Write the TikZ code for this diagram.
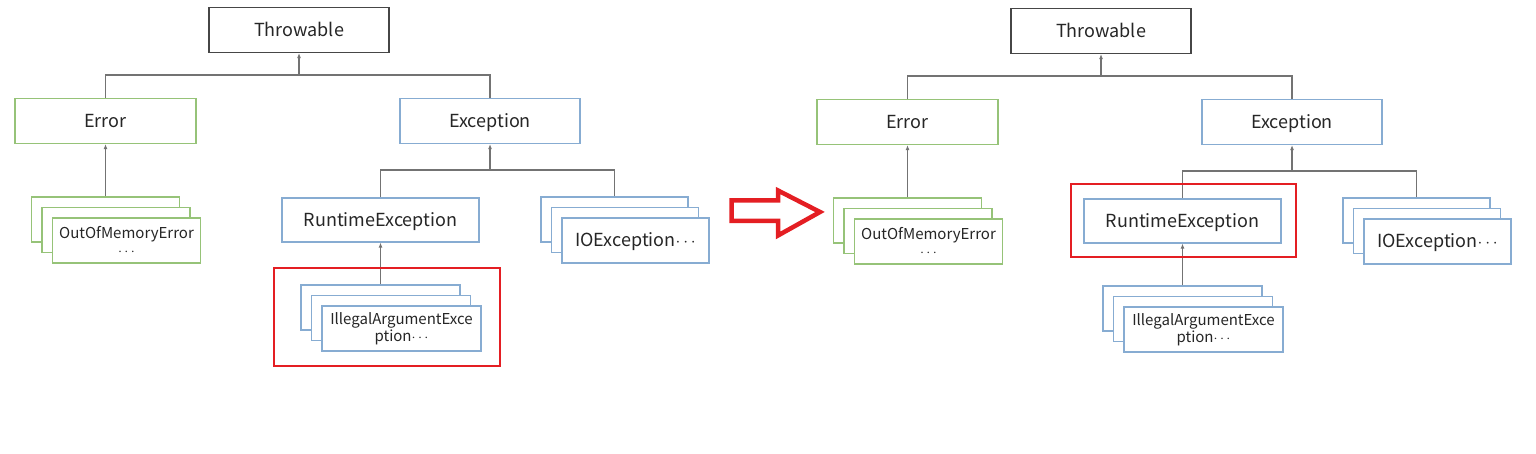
\documentclass[tikz,border=0pt]{standalone}
\usepackage{fontspec}
\setmainfont{Noto Sans CJK SC}
\usetikzlibrary{arrows.meta,shadows,positioning}
\definecolor{tgray}{RGB}{70,70,70}
\definecolor{tgreen}{RGB}{150,195,120}
\definecolor{tblue}{RGB}{135,172,210}
\definecolor{tlink}{RGB}{115,115,115}
\definecolor{tred}{RGB}{228,30,35}
\begin{document}
\begin{tikzpicture}[x=1pt, y=-1pt]
  \tikzset{BoxStyle/.style = {shape        = rectangle,
                              draw         = #1,
                              fill         = white,
                              line width   = 1.2pt,
                              text         = black!85,
                              inner sep    = 2pt,
                              minimum height = 45pt,
                              font         = \fontsize{18}{20}\selectfont},
           OneLine/.style = {text height=13pt, text depth=0pt},
           StackStyle/.style = {BoxStyle=#1,
                              double copy shadow={shadow xshift=-10.5pt, shadow yshift=10.5pt,
                                                  draw=#1, fill=white, line width=1.2pt}},
           SmallText/.style = {align=center, font=\fontsize{15}{17}\selectfont},
           LinkStyle/.style = {draw=tlink, line width=1.1pt},
           ArrowTip/.style = {-{Latex[length=5pt, width=4pt]}},
           MarkStyle/.style = {draw=tred, line width=2.6pt, rectangle, fill=none}}
  \useasboundingbox (0,0) rectangle (1536,454);
  %%% TWO COPIES OF THE TREE %%%
  \foreach \dx/\dy/\t in {0/0/a, 802/1/b}{
    \begin{scope}[shift={(\dx,\dy)}]
      \node[BoxStyle=tgray, OneLine, minimum width=180pt](th\t) at (299,30){Throwable};
      \node[BoxStyle=tgreen, OneLine, minimum width=181pt](err\t) at (105.5,121){Error};
      \node[BoxStyle=tblue, OneLine, minimum width=180pt](exc\t) at (490,121){Exception};
      \node[StackStyle=tgreen, SmallText, minimum width=148pt](oom\t) at (126.5,240.5){OutOfMemoryError\\$\cdots$};
      \node[BoxStyle=tblue, OneLine, minimum width=197pt, minimum height=44pt](rt\t) at (380.5,220){RuntimeException};
      \node[StackStyle=tblue, SmallText, minimum width=159pt](ill\t) at (401.5,328.5){IllegalArgumentExce\\ption$\cdots$};
      \node[StackStyle=tblue, OneLine, minimum width=147pt](io\t) at (635.5,240.5){IOException$\cdots$};
      % tops of the back copies
      \coordinate (oomtop\t) at ([shift={(-21,-21)}]oom\t.north);
      \coordinate (illtop\t) at ([shift={(-21,-21)}]ill\t.north);
      \coordinate (iotop\t) at ([shift={(-21,-21)}]io\t.north);
      \coordinate (jt\t) at (299,75);
      \coordinate (je\t) at (490,170);
      %%% LINKS %%%
      \draw[LinkStyle] (err\t.north) |- (jt\t) -| (exc\t.north);
      \draw[LinkStyle, ArrowTip] (jt\t) -- (th\t.south);
      \draw[LinkStyle, ArrowTip] (oomtop\t) -- (err\t.south);
      \draw[LinkStyle] (rt\t.north) |- (je\t) -| (iotop\t);
      \draw[LinkStyle, ArrowTip] (je\t) -- (exc\t.south);
      \draw[LinkStyle, ArrowTip] (illtop\t) -- (rt\t.south);
    \end{scope}
  }
  %%% HIGHLIGHTS %%%
  \node[MarkStyle, minimum width=226pt, minimum height=98pt](marka) at (387,317){};
  \node[MarkStyle, minimum width=225pt, minimum height=73pt](markb) at (1183.5,220.5){};
  % hollow arrow between the trees
  \draw[draw=tred, line width=4.5pt, line join=miter]
    (731.5,200.5) -- (778,200.5) -- (778,190.5) -- (820,212) -- (778,235.5)
    -- (778,221) -- (731.5,221) -- cycle;
\end{tikzpicture}
\end{document}
